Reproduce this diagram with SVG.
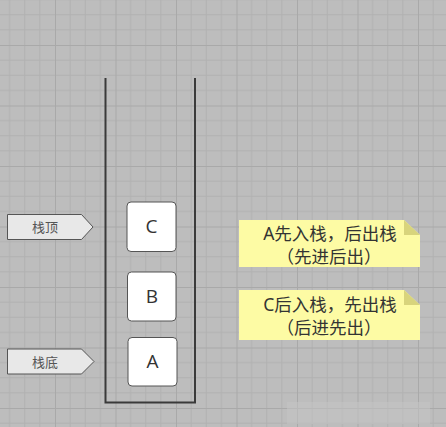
<svg xmlns="http://www.w3.org/2000/svg" width="446" height="427" viewBox="0 0 446 427">
<style>
.wall{stroke:#3a3a3a;stroke-width:2;fill:none}
.box{fill:#ffffff;stroke:#555555;stroke-width:1}
.letter{font-family:"Open Sans","Liberation Sans",sans-serif;font-size:19px;fill:#333333;text-anchor:middle}
.tag{fill:#e8e8e8;stroke:#555555;stroke-width:1}
.tagtext{font-family:"Noto Sans CJK SC","Noto Sans",sans-serif;font-size:13px;fill:#555555;text-anchor:middle}
.note{fill:#fdfba4}
.fold{fill:#d8d47c}
.notetext{font-family:"Noto Sans","Noto Sans CJK SC",sans-serif;font-size:17.5px;fill:#333333;text-anchor:middle}
</style>
<defs>
<pattern id="grid" patternUnits="userSpaceOnUse" x="55" y="45" width="60.5" height="60.5">
<rect width="60.5" height="60.5" fill="#bdbdbd"/>
<path d="M15.125 0V60.5M30.25 0V60.5M45.375 0V60.5M0 15.125H60.5M0 30.25H60.5M0 45.375H60.5" stroke="#b1b1b1" stroke-width="1" fill="none"/>
<path d="M0.5 0V60.5M0 0.5H60.5" stroke="#a9a9a9" stroke-width="1" fill="none"/>
</pattern>
</defs>
<rect x="0" y="0" width="446" height="427" fill="url(#grid)"/>
<rect x="287" y="402" width="143" height="22" fill="#c3c3c3" opacity="0.6"/>
<g id="stack">
<path class="wall" d="M105.5 78V402.5H195V78"/>
</g>
<g id="nodeC">
<rect class="box" x="127" y="202" width="49" height="49.5" rx="4"/>
<text class="letter" x="151.5" y="233">C</text>
</g>
<g id="nodeB">
<rect class="box" x="127.5" y="272" width="48.5" height="49" rx="4"/>
<text class="letter" x="152" y="303">B</text>
</g>
<g id="nodeA">
<rect class="box" x="128" y="337.5" width="49" height="48.5" rx="4"/>
<text class="letter" x="152.5" y="368">A</text>
</g>
<g id="top">
<path class="tag" d="M7.5 214.5H81.5L93 227L81.5 239.5H7.5Z"/>
<text class="tagtext" x="45" y="232">栈顶</text>
</g>
<g id="bottom">
<path class="tag" d="M7.5 349H81.5L94 361.5L81.5 374H7.5Z"/>
<text class="tagtext" x="45" y="366.5">栈底</text>
</g>
<g id="note1">
<path class="note" d="M239 220H404L420 235V267H239Z"/>
<path class="fold" d="M404 220L420 235H404Z"/>
<text class="notetext" x="330" y="239.5">A先入栈，后出栈</text>
<text class="notetext" x="329" y="262.5">（先进后出）</text>
</g>
<g id="note2">
<path class="note" d="M239 290H404L420 305V340H239Z"/>
<path class="fold" d="M404 290L420 305H404Z"/>
<text class="notetext" x="330" y="311">C后入栈，先出栈</text>
<text class="notetext" x="329" y="334">（后进先出）</text>
</g>
<g id="connectors"></g>
</svg>
